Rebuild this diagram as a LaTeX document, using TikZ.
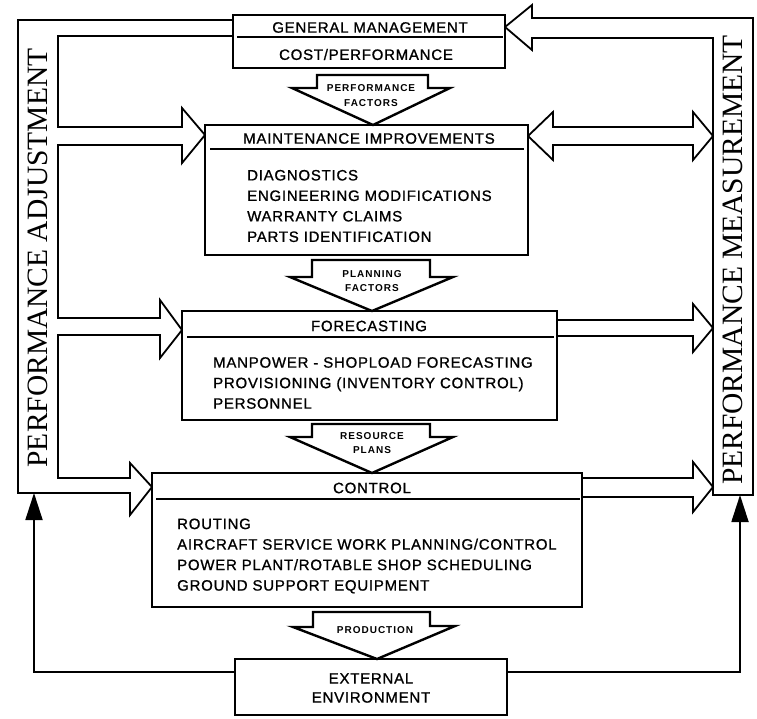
\documentclass[tikz,border=0pt]{standalone}
\usepackage{fontspec}
\setmainfont{Liberation Sans}
\newfontfamily\bodyfont[LetterSpace=5,FakeBold=1]{Liberation Sans}
\newfontfamily\chevfont[LetterSpace=10]{Liberation Sans}
\newfontfamily\barfont{Liberation Serif}
\usetikzlibrary{arrows.meta}
\begin{document}
\begin{tikzpicture}[x=1pt,y=-1pt,
 box/.style={draw, line width=1.7pt, fill=white, inner sep=0pt},
 sepl/.style={line width=1.7pt},
 pipe/.style={line width=1.8pt, line join=miter},
 chev/.style={draw, line width=2.4pt, fill=white, line join=miter},
 body/.style={font=\bodyfont\fontsize{15}{20.5}\selectfont, align=left, anchor=west, inner sep=0pt},
 ttl/.style={font=\bodyfont\fontsize{15}{19}\selectfont, align=center, inner sep=0pt},
 chevtxt/.style={font=\chevfont\bfseries\fontsize{10}{14.5}\selectfont, align=center, inner sep=0pt},
 bartxt/.style={font=\barfont\fontsize{29.5}{30}\selectfont, rotate=90, inner sep=0pt},
 blk/.style={line width=1.8pt, -{Triangle[length=27pt,width=17pt]}}]

\useasboundingbox[fill=white] (0,0) rectangle (757,718);

% performance adjustment channel (left)
\draw[pipe] (233,20) -- (18,20) -- (18,493) -- (130,493) -- (130,515) -- (152,487) -- (130,463) -- (130,478) -- (58,478) -- (58,335) -- (160,335) -- (160,358) -- (182,330) -- (160,300) -- (160,318) -- (58,318) -- (58,145) -- (182,145) -- (182,163) -- (205,135) -- (182,108) -- (182,127) -- (58,127) -- (58,36) -- (233,36);
\node[bartxt] (adj) at (38,258) {PERFORMANCE ADJUSTMENT};

% performance measurement channel (right)
\draw[pipe] (713,38) -- (532,38) -- (532,50) -- (505,27) -- (532,5) -- (532,18) -- (753,18) -- (753,495) -- (713,495) -- cycle;
\node[bartxt] (meas) at (733,260) {PERFORMANCE MEASUREMENT};

% open arrows to the right channel
\draw[pipe] (528,136) -- (553,112) -- (553,127) -- (693,127) -- (693,112) -- (713,136) -- (693,160) -- (693,145) -- (553,145) -- (553,160) -- cycle;
\draw[pipe] (557,320) -- (693,320) -- (693,304) -- (713,328) -- (693,352) -- (693,336) -- (557,336);
\draw[pipe] (582,478) -- (693,478) -- (693,462) -- (713,487) -- (693,512) -- (693,497) -- (582,497);

% boxes
\node[box, minimum width=272pt, minimum height=53pt] (gm) at (369,41.5) {};
\node[box, minimum width=323pt, minimum height=130pt] (mi) at (366.5,190) {};
\node[box, minimum width=375pt, minimum height=109pt] (fc) at (369.5,365.5) {};
\node[box, minimum width=430pt, minimum height=134pt] (ct) at (367,540) {};
\node[box, minimum width=272pt, minimum height=56pt] (ee) at (371,687) {};

\draw[sepl] ([shift={(5,23)}]gm.north west) -- ([shift={(-3,23)}]gm.north east);
\draw[sepl] ([shift={(6,25)}]mi.north west) -- ([shift={(-5,25)}]mi.north east);
\draw[sepl] ([shift={(6,27)}]fc.north west) -- ([shift={(-4,27)}]fc.north east);
\draw[sepl] ([shift={(5,27)}]ct.north west) -- ([shift={(-3,27)}]ct.north east);

% titles and contents
\node[ttl] (gmt) at (370,27.5) {GENERAL MANAGEMENT};
\node[ttl] (gmc) at (366,54.5) {COST/PERFORMANCE};
\node[ttl] (mit) at (369,138.5) {MAINTENANCE IMPROVEMENTS};
\node[body] (mib) at (247,206) {DIAGNOSTICS\\ENGINEERING MODIFICATIONS\\WARRANTY CLAIMS\\PARTS IDENTIFICATION};
\node[ttl] (fct) at (369,326) {FORECASTING};
\node[body] (fcb) at (213,383) {MANPOWER - SHOPLOAD FORECASTING\\PROVISIONING (INVENTORY CONTROL)\\PERSONNEL};
\node[ttl] (ctt) at (372,488) {CONTROL};
\node[body] (ctb) at (177,556) {ROUTING\\AIRCRAFT SERVICE WORK PLANNING/CONTROL\\POWER PLANT/ROTABLE SHOP SCHEDULING\\GROUND SUPPORT EQUIPMENT};
\node[ttl] (eet) at (371,688) {EXTERNAL\\ENVIRONMENT};

% flow chevrons
\draw[chev] (317,75) -- (428,75) -- (428,88) -- (450,88) -- (373,125) -- (292,88) -- (317,88) -- cycle;
\node[chevtxt] (pf) at (371,95.5) {PERFORMANCE\\FACTORS};
\draw[chev] (312,260) -- (430,260) -- (430,277) -- (453,277) -- (372,311) -- (290,277) -- (312,277) -- cycle;
\node[chevtxt] (pl) at (372,281) {PLANNING\\FACTORS};
\draw[chev] (312,424) -- (430,424) -- (430,437) -- (453,437) -- (372,473) -- (290,437) -- (312,437) -- cycle;
\node[chevtxt] (rp) at (372,443) {RESOURCE\\PLANS};
\draw[chev] (313,612) -- (430,612) -- (430,626) -- (455,626) -- (377,659) -- (293,627) -- (313,627) -- cycle;
\node[chevtxt] (pr) at (375,630) {PRODUCTION};

% feedback from external environment
\coordinate (eeL) at (235,672);
\coordinate (eeR) at (507,672);
\coordinate (adjB) at (34,493);
\coordinate (measB) at (740,495);
\draw[blk] (eeL) -| (adjB);
\draw[blk] (eeR) -| (measB);
\end{tikzpicture}
\end{document}
